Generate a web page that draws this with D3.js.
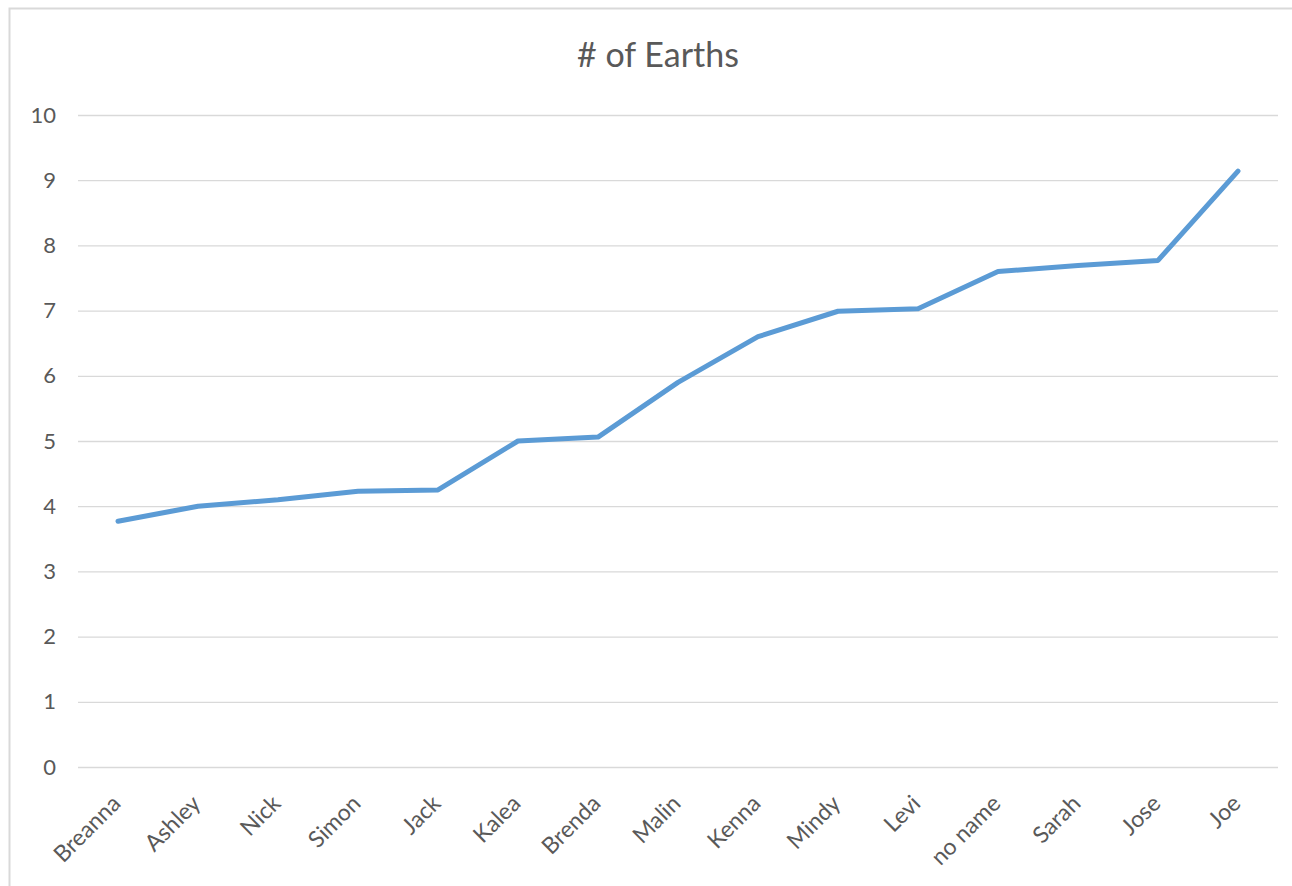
<!DOCTYPE html>
<html>
<head>
<meta charset="utf-8">
<script src="https://cdn.jsdelivr.net/npm/d3@7"></script>
<style>
  body { margin: 0; background: #fff; }
  text { font-family: Lato, "Open Sans", sans-serif; fill: #595959; }
</style>
</head>
<body>
<div id="chart"></div>
<script>
// Data
const names = ["Breanna", "Ashley", "Nick", "Simon", "Jack", "Kalea", "Brenda", "Malin",
               "Kenna", "Mindy", "Levi", "no name", "Sarah", "Jose", "Joe"];
const earths = [3.77, 4.0, 4.1, 4.23, 4.25, 5.0, 5.06, 5.9, 6.6, 6.99, 7.03, 7.6, 7.69, 7.77, 9.14];
const yTicks = [0, 1, 2, 3, 4, 5, 6, 7, 8, 9, 10];

const W = 1292, H = 886;
const margin = { top: 115, right: 14, bottom: 119, left: 78 };
const width = W - margin.left - margin.right;
const height = H - margin.top - margin.bottom;

const root = d3.select("#chart").append("svg")
    .attr("width", W)
    .attr("height", H);

// chart border
root.append("rect")
    .attr("x", 9.5).attr("y", 8.5)
    .attr("width", W + 20).attr("height", H + 20)
    .attr("fill", "none")
    .attr("stroke", "#d9d9d9")
    .attr("stroke-width", 2);

// title
root.append("text")
    .attr("x", 658)
    .attr("y", 67)
    .attr("text-anchor", "middle")
    .style("font-size", "34px")
    .text("# of Earths");

const svg = root.append("g")
    .attr("transform", `translate(${margin.left},${margin.top})`);

const x = d3.scaleBand().domain(names).range([0, width]);
const y = d3.scaleLinear().domain([0, 10]).range([height, 0]);

// gridlines + y labels
const yAxis = svg.append("g")
    .call(d3.axisLeft(y).tickValues(yTicks).tickSize(-width).tickFormat(d3.format("d")));
yAxis.select(".domain").remove();
yAxis.selectAll(".tick line").attr("stroke", "#d9d9d9").attr("stroke-width", 1.3);
yAxis.selectAll(".tick text")
    .attr("x", -22)
    .style("font-size", "22px")
    .style("fill", "#595959");

// x labels
const xAxis = svg.append("g")
    .attr("transform", `translate(0,${height})`)
    .call(d3.axisBottom(x).tickSize(0));
xAxis.select(".domain").remove();
xAxis.selectAll(".tick text")
    .attr("text-anchor", "end")
    .attr("x", 0).attr("y", 0)
    .attr("dy", "0")
    .attr("transform", "translate(4,38) rotate(-45)")
    .style("font-size", "23px")
    .style("fill", "#595959");

// line
const line = d3.line()
    .x((d, i) => x(names[i]) + x.bandwidth() / 2)
    .y(d => y(d));

svg.append("path")
    .datum(earths)
    .attr("d", line)
    .attr("fill", "none")
    .attr("stroke", "#5b9bd5")
    .attr("stroke-width", 5)
    .attr("stroke-linecap", "round")
    .attr("stroke-linejoin", "round");
</script>
</body>
</html>
